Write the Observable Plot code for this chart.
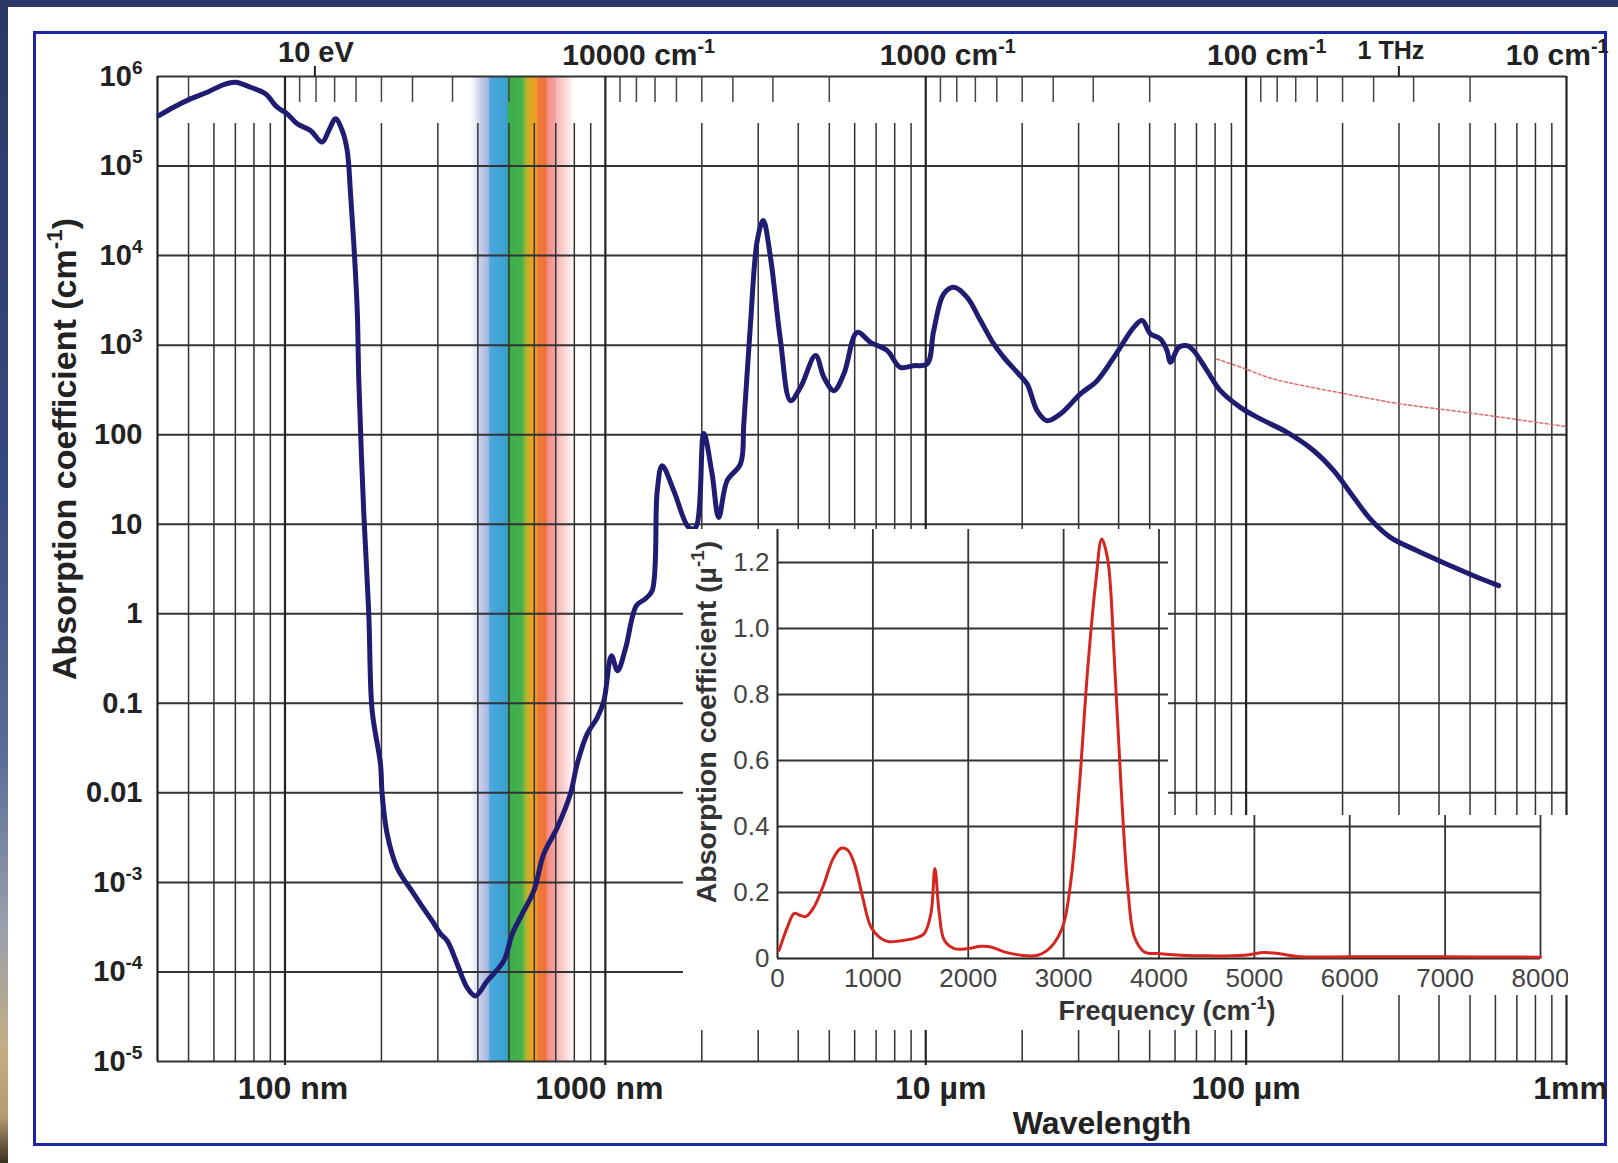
<!DOCTYPE html>
<html>
<head>
<meta charset="utf-8">
<script src="https://cdn.jsdelivr.net/npm/d3@7"></script>
<script src="https://cdn.jsdelivr.net/npm/@observablehq/plot@0.6"></script>
<style>
  html, body { margin: 0; padding: 0; background: #fff; }
  #page { position: relative; width: 1618px; height: 1163px; overflow: hidden; background: #fff; }
  #topband { position: absolute; left: 0; top: 0; width: 1618px; height: 7px; background: #2c3868; }
  #leftband { position: absolute; left: 0; top: 0; width: 8px; height: 1163px;
    background: linear-gradient(to bottom, #2c3866 0%, #34497c 40%, #5a6d98 65%, #9aa0ac 80%, #c4ad85 90%, #b89a70 96%, #3a3020 100%); }
  #frame { position: absolute; left: 33px; top: 31px; width: 1574px; height: 1115px; box-sizing: border-box; border: 3px solid #1b25aa; }
  #main { position: absolute; left: 0; top: 0; }
  #inset { position: absolute; left: 683px; top: 529px; width: 885px; height: 501px; background: #fff;
    clip-path: polygon(0px 0px, 485px 0px, 485px 286px, 885px 286px, 885px 466px, 604px 466px, 604px 501px, 0px 501px); }
</style>
</head>
<body>
<div id="page">
  <div id="topband"></div>
  <div id="leftband"></div>
  <div id="frame"></div>
  <div id="main"></div>
  <div id="inset"></div>
</div>
<script>
// ---------------- DATA ----------------
// Main spectrum of liquid water: wavelength (nm) and absorption coefficient (cm^-1)
const wavelengthNm = [
  40.4, 44.9, 50.7, 57.2, 64.4, 70.1, 78.0, 86.9, 94.5, 101.6,
  109.2, 120.1, 130.6, 137.0, 143.8, 150.9, 156.4, 160.2, 164.0, 168.1,
  170.0, 176.2, 182.6, 187.1, 198.6, 201.0, 208.4, 223.9, 252.4, 278.0,
  288.1, 305.8, 321.0, 344.7, 370.4, 393.1, 427.6, 482.0, 512.0, 550.1,
  597.8, 642.3, 707.5, 778.0, 816.6, 877.6, 943.6, 989.5, 1045, 1091,
  1155, 1250, 1334, 1400, 1452, 1504, 1635, 1821, 1910, 2028,
  2153, 2258, 2398, 2642, 2705, 2838, 2979, 3110, 3276, 3521,
  3783, 4065, 4530, 4810, 5166, 5550, 6110, 6720, 7580, 8330,
  9170, 10100, 10590, 11380, 12230, 13460, 14820, 16300, 17520, 19500,
  20730, 22270, 23930, 26310, 30400, 34270, 39570, 44590, 47360, 50280,
  54010, 56640, 58030, 61600, 65400, 68560, 75500, 83130, 95950, 110800,
  134300, 162600, 187700, 216800, 244300, 282000, 341800, 434400, 513400, 614300
];
const absorptionCm = [
  3.66e5, 4.54e5, 5.63e5, 6.68e5, 8.14e5, 8.64e5, 7.59e5, 6.41e5, 4.54e5, 3.83e5,
  2.96e5, 2.49e5, 1.85e5, 2.49e5, 3.37e5, 2.49e5, 1.49e5, 4.89e4, 1.35e4, 2430,
  401, 13.1, 1.0, 0.0824, 0.0211, 0.00975, 0.00348, 0.00146, 7.45e-4, 4.45e-4,
  3.72e-4, 2.66e-4, 2.22e-4, 1.23e-4, 6.68e-5, 5.40e-5, 7.93e-5, 1.33e-4, 2.66e-4, 4.45e-4,
  8.04e-4, 2.08e-3, 4.09e-3, 9.75e-3, 0.0211, 0.0456, 0.0693, 0.107, 0.34, 0.231,
  0.406, 1.23, 1.47, 1.81, 23.7, 45.0, 23.7, 9.2, 9.1, 103,
  36.6, 11.9, 30.6, 47.4, 133, 1738, 1.47e4, 2.46e4, 9570, 1122,
  240, 338, 764, 437, 310, 476, 1390, 1074, 869, 565,
  590, 617, 1452, 3730, 4430, 3420, 1880, 1030, 731, 476,
  368, 185, 143, 170, 285, 401, 832, 1581, 1880, 1334,
  1172, 869, 643, 944, 986, 869, 519, 310, 202, 150,
  106, 66.2, 39.6, 19.9, 11.4, 7.13, 5.06, 3.44, 2.66, 2.06
];
// thin red dotted continuation (far infrared)
const dottedNm = [81000, 100000, 120000, 200000, 300000, 500000, 1000000];
const dottedAbs = [700, 540, 425, 290, 222, 175, 123];

// Inset: linear absorption vs frequency
const insetFreq = [
  17, 105, 175, 227, 297, 385, 490, 577, 664, 734,
  804, 892, 979, 1084, 1171, 1294, 1434, 1539, 1609, 1650,
  1696, 1748, 1853, 1993, 2133, 2238, 2378, 2553, 2728, 2867,
  2990, 3077, 3165, 3252, 3340, 3399, 3462, 3532, 3602, 3672,
  3742, 3847, 3987, 4231, 4500, 4900, 5100, 5250, 5450, 6000,
  7000, 8000
];
const insetAbs = [
  0.025, 0.096, 0.137, 0.132, 0.127, 0.157, 0.228, 0.299, 0.334, 0.329,
  0.289, 0.187, 0.096, 0.061, 0.051, 0.054, 0.061, 0.076, 0.137, 0.273,
  0.137, 0.056, 0.030, 0.030, 0.037, 0.035, 0.020, 0.010, 0.010, 0.035,
  0.096, 0.238, 0.522, 0.876, 1.149, 1.271, 1.21, 0.906, 0.522, 0.218,
  0.066, 0.020, 0.015, 0.010, 0.008, 0.010, 0.018, 0.015, 0.006, 0.005,
  0.005, 0.004
];

// Axis ticks and labels
const yTickValues = [1e6, 1e5, 1e4, 1e3, 100, 10, 1, 0.1, 0.01, 1e-3, 1e-4, 1e-5];
const yTickLabels = ["10^{6}", "10^{5}", "10^{4}", "10^{3}", "100", "10", "1", "0.1", "0.01", "10^{-3}", "10^{-4}", "10^{-5}"];
const decadeNm = [100, 1000, 1e4, 1e5, 1e6];
const bottomLabels = ["100 nm", "1000 nm", "10 µm", "100 µm", "1mm"];
const minorNm = [50, 60, 70, 80, 90, 200, 300, 400, 500, 600, 700, 800, 900,
  2000, 3000, 4000, 5000, 6000, 7000, 8000, 9000,
  20000, 30000, 40000, 50000, 60000, 70000, 80000, 90000,
  200000, 300000, 400000, 500000, 600000, 700000, 800000, 900000];
const wavenumberTicks = [20, 30, 40, 50, 60, 70, 80, 90,
  200, 300, 400, 500, 600, 700, 800, 900,
  2000, 3000, 4000, 5000, 6000, 7000, 8000, 9000,
  20000, 30000, 40000, 50000, 60000, 70000, 80000, 90000, 200000];
const topLabels = ["10 eV", "10000 cm^{-1}", "1000 cm^{-1}", "100 cm^{-1}", "1 THz", "10 cm^{-1}"];
const topLabelNm = [123.98, 1000, 1e4, 1e5, 299792, 1e6];
const markedNm = [123.98, 299792]; // 10 eV and 1 THz
const visibleBand = [{from: 380, to: 800}];

const insetYTicks = [0, 0.2, 0.4, 0.6, 0.8, 1.0, 1.2];
const insetYLabels = ["0", "0.2", "0.4", "0.6", "0.8", "1.0", "1.2"];
const insetXTicks = [0, 1000, 2000, 3000, 4000, 5000, 6000, 7000, 8000];

// ---------------- STYLE / LAYOUT ----------------
const FONT = '"Liberation Sans", Arial, Helvetica, sans-serif';
const spectrumStops = [[380,"#ffffff"],[398,"#dfe2f2"],[415,"#bcc5e7"],[432,"#a9b8e2"],[438,"#4aa9dd"],
  [494,"#3a9fd5"],[499,"#3aad4d"],[552,"#47b24a"],[566,"#a9b532"],[588,"#e7a523"],[612,"#eba122"],
  [617,"#ef7a39"],[655,"#ee7238"],[661,"#f18c86"],[700,"#f3a3a3"],[706,"#f6b6b6"],[775,"#fde6e6"],[800,"#ffffff"]];
const bottomDx = [8, -6, 15, 0, 4];
const topLayout = [
  {anchor: "middle", dx: 1, dy: -24, size: 29},
  {anchor: "start", dx: -43, dy: -21, size: 30},
  {anchor: "start", dx: -46, dy: -21, size: 30},
  {anchor: "start", dx: -39, dy: -21, size: 30},
  {anchor: "middle", dx: -8, dy: -26, size: 25},
  {anchor: "end", dx: 42, dy: -21, size: 30}
];

const water = wavelengthNm.map((l, i) => ({l, a: absorptionCm[i]}));
const dotted = dottedNm.map((l, i) => ({l, a: dottedAbs[i]}));
const ice = insetFreq.map((f, i) => ({f, a: insetAbs[i]}));
const yTicks = yTickValues.map((v, i) => ({v, t: yTickLabels[i]}));
const bottomTicks = decadeNm.map((v, i) => ({v, t: bottomLabels[i]}));
const topTicks = topLabels.map((t, i) => ({t, v: topLabelNm[i]}));

const GRID = "#333";

const main = Plot.plot({
  width: 1618, height: 1163,
  marginLeft: 157, marginRight: 52, marginTop: 76, marginBottom: 102,
  x: {type: "log", domain: [40, 1e6], axis: null},
  y: {type: "log", domain: [1e-5, 1e6], axis: null},
  style: `background: transparent; overflow: visible; max-width: none; font-family: ${FONT};`,
  marks: [
    Plot.rect(visibleBand, {x1: "from", x2: "to", fill: "#010203"}),
    Plot.ruleY(yTickValues, {stroke: GRID, strokeWidth: 2}),
    Plot.ruleX(minorNm, {insetTop: 47, stroke: GRID, strokeWidth: 1.5}),
    Plot.ruleX(wavenumberTicks.map(k => 1e7 / k), {insetBottom: 959, stroke: "#444", strokeWidth: 1.5}),
    Plot.ruleX(decadeNm, {insetBottom: -4, stroke: "#222", strokeWidth: 2.2}),
    Plot.ruleX([40], {stroke: "#222", strokeWidth: 2.2}),
    Plot.ruleX(markedNm, {insetTop: -10, insetBottom: 985, stroke: "#222", strokeWidth: 2}),
    Plot.line(dotted, {x: "l", y: "a", stroke: "#e06a6a", strokeWidth: 1.5, strokeDasharray: "3,2.5", curve: "catmull-rom"}),
    Plot.line(water, {x: "l", y: "a", stroke: "#201c72", strokeWidth: 5, curve: "catmull-rom", strokeLinejoin: "round"}),
    Plot.text(yTicks, {frameAnchor: "left", y: "v", text: "t", textAnchor: "end", lineAnchor: "middle", dx: -15, fontSize: 29, fontWeight: "bold", fill: "#222"}),
    ...bottomTicks.map((d, i) => Plot.text([d], {x: "v", text: "t", frameAnchor: "bottom", lineAnchor: "middle", dy: 27, dx: bottomDx[i], fontSize: 32, fontWeight: "bold", fill: "#222"})),
    ...topTicks.map((d, i) => Plot.text([d], {x: "v", text: "t", frameAnchor: "top", lineAnchor: "middle", dy: topLayout[i].dy, dx: topLayout[i].dx, textAnchor: topLayout[i].anchor, fontSize: topLayout[i].size, fontWeight: "bold", fill: "#222"})),
    Plot.text(["Wavelength"], {text: d => d, frameAnchor: "bottom", lineAnchor: "middle", textAnchor: "middle", dx: 240, dy: 62, fontSize: 32, fontWeight: "bold", fill: "#222"}),
    Plot.text(["Absorption coefficient (cm^{-1})"], {text: d => d, frameAnchor: "left", textAnchor: "middle", lineAnchor: "middle", rotate: -90, dx: -92, dy: -120, fontSize: 34, fontWeight: "bold", fill: "#222"})
  ]
});

const inset = Plot.plot({
  width: 885, height: 501,
  marginLeft: 94, marginRight: 28, marginTop: 0, marginBottom: 72,
  x: {domain: [0, 8000], axis: null},
  y: {domain: [0, 1.3], axis: null},
  style: `background: transparent; overflow: visible; max-width: none; font-family: ${FONT};`,
  marks: [
    Plot.ruleY(insetYTicks.slice(1), {stroke: GRID, strokeWidth: 1.8}),
    Plot.ruleX(insetXTicks.slice(1), {stroke: GRID, strokeWidth: 1.8}),
    Plot.ruleY([0], {stroke: "#222", strokeWidth: 2}),
    Plot.ruleX([0], {stroke: "#222", strokeWidth: 2}),
    Plot.line(ice, {x: "f", y: "a", stroke: "#d4261e", strokeWidth: 3, curve: "catmull-rom"}),
    Plot.text(insetYTicks, {frameAnchor: "left", y: d => d, text: (d, i) => insetYLabels[i], textAnchor: "end", lineAnchor: "middle", dx: -8, fontSize: 26, fill: "#444"}),
    Plot.text(insetXTicks, {frameAnchor: "bottom", x: d => d, text: d => String(d), lineAnchor: "middle", dy: 20, fontSize: 26, fill: "#444"}),
    Plot.text(["Absorption coefficient (µ^{-1})"], {text: d => d, frameAnchor: "left", textAnchor: "middle", lineAnchor: "middle", rotate: -90, dx: -71, dy: -22, fontSize: 28.5, fontWeight: "bold", fill: "#333"}),
    Plot.text(["Frequency (cm^{-1})"], {text: d => d, frameAnchor: "bottom", textAnchor: "middle", lineAnchor: "middle", dx: 8, dy: 53, fontSize: 27, fontWeight: "bold", fill: "#333"})
  ]
});

document.getElementById("main").appendChild(main);
document.getElementById("inset").appendChild(inset);

// ---------------- POST-PROCESSING ----------------
const NS = "http://www.w3.org/2000/svg";
function supify(svg) {
  svg.querySelectorAll("text").forEach(t => {
    const s = t.textContent;
    if (!s.includes("^{")) return;
    const fs = parseFloat(getComputedStyle(t).fontSize) || 16;
    while (t.firstChild) t.removeChild(t.firstChild);
    let shifted = false;
    s.split(/(\^\{[^}]*\})/).forEach(p => {
      if (!p) return;
      const ts = document.createElementNS(NS, "tspan");
      if (p.startsWith("^{")) {
        ts.textContent = p.slice(2, -1);
        ts.setAttribute("font-size", (fs * 0.66).toFixed(1));
        ts.setAttribute("dy", (-fs * 0.42).toFixed(1));
        shifted = true;
      } else {
        ts.textContent = p;
        if (shifted) { ts.setAttribute("dy", (fs * 0.42).toFixed(1)); shifted = false; }
      }
      t.appendChild(ts);
    });
  });
}
function addSpectrum(svg) {
  const defs = document.createElementNS(NS, "defs");
  const grad = document.createElementNS(NS, "linearGradient");
  grad.setAttribute("id", "visSpec");
  grad.setAttribute("x1", "0"); grad.setAttribute("x2", "1");
  grad.setAttribute("y1", "0"); grad.setAttribute("y2", "0");
  const l0 = Math.log(visibleBand[0].from), l1 = Math.log(visibleBand[0].to);
  spectrumStops.forEach(([nm, c]) => {
    const st = document.createElementNS(NS, "stop");
    st.setAttribute("offset", ((Math.log(nm) - l0) / (l1 - l0)).toFixed(4));
    st.setAttribute("stop-color", c);
    grad.appendChild(st);
  });
  defs.appendChild(grad);
  svg.insertBefore(defs, svg.firstChild);
  svg.querySelectorAll('[fill="#010203"]').forEach(el => el.setAttribute("fill", "url(#visSpec)"));
}
addSpectrum(main);
supify(main);
supify(inset);
</script>
</body>
</html>
